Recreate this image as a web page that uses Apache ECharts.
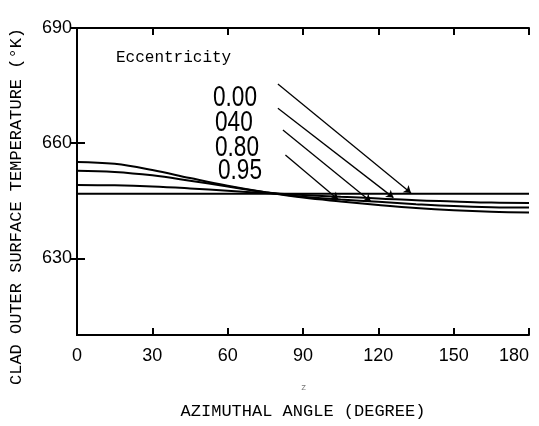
<!DOCTYPE html>
<html>
<head>
<meta charset="utf-8">
<script src="https://cdn.jsdelivr.net/npm/echarts@6/dist/echarts.min.js"></script>
<style>
  html, body { margin: 0; padding: 0; background: #fff; }
  #chart { width: 539px; height: 426px; }
</style>
</head>
<body>
<div id="chart"></div>
<script>
// azimuthal angle (degree)
var angles = [0, 15, 30, 45, 60, 75, 90, 105, 120, 135, 150, 165, 180];
// clad outer surface temperature (K) per eccentricity
var ecc000 = [646.8, 646.8, 646.8, 646.8, 646.8, 646.8, 646.8, 646.8, 646.8, 646.8, 646.8, 646.8, 646.8];
var ecc040 = [649.1, 649.0, 648.7, 648.2, 647.6, 647.0, 646.5, 646.0, 645.6, 645.1, 644.8, 644.5, 644.4];
var ecc080 = [652.8, 652.5, 651.6, 650.2, 648.7, 647.2, 646.0, 645.3, 644.7, 644.1, 643.6, 643.3, 643.2];
var ecc095 = [655.1, 654.6, 653.0, 650.9, 648.9, 647.2, 645.8, 644.8, 643.9, 643.1, 642.5, 642.1, 641.9];
var seriesNames = ["0.00", "040", "0.80", "0.95"];
var yTicks = [630, 660, 690];

function pairs(ys) {
  return angles.map(function (a, i) { return [a, ys[i]]; });
}

// leader lines from the labels to the curves (data coords)
var leaders = [
  [[80, 675.4], [133, 647.0]],
  [[80, 669.1], [126, 645.8]],
  [[82, 663.4], [117, 644.8]],
  [[83, 656.9], [104, 645.3]]
];

var chart = echarts.init(document.getElementById("chart"));
var lineStyle = { color: "#000", width: 2 };
var mono = "Liberation Mono";

var allData = [ecc000, ecc040, ecc080, ecc095];
var series = allData.map(function (d, i) {
  return {
    name: seriesNames[i],
    type: "line",
    smooth: 0.4,
    symbol: "none",
    data: pairs(d),
    lineStyle: { color: "#000", width: 2 },
    markLine: {
      silent: true,
      symbol: ["none", "arrow"],
      symbolSize: 7,
      label: { show: false },
      lineStyle: { color: "#000", width: 1.3, type: "solid" },
      data: [[{ coord: leaders[i][0] }, { coord: leaders[i][1] }]]
    }
  };
});

var option = {
  animation: false,
  backgroundColor: "#fff",
  grid: { left: 77, right: 10, top: 28, bottom: 91, outerBoundsMode: "none" },
  xAxis: [
    {
      type: "value",
      min: 0,
      max: 180,
      interval: 30,
      name: "AZIMUTHAL ANGLE (DEGREE)",
      nameLocation: "middle",
      nameGap: 68,
      nameTextStyle: { fontFamily: mono, fontSize: 17, color: "#000" },
      axisLine: { lineStyle: lineStyle },
      axisTick: { inside: true, length: 7, lineStyle: lineStyle },
      axisLabel: {
        fontFamily: "Liberation Sans", fontSize: 18, color: "#000", margin: 12,
        alignMaxLabel: "right"
      },
      splitLine: { show: false }
    },
    {
      type: "value",
      position: "top",
      min: 0,
      max: 180,
      interval: 30,
      axisLine: { lineStyle: lineStyle },
      axisTick: { inside: true, length: 7, lineStyle: lineStyle },
      axisLabel: { show: false },
      splitLine: { show: false }
    }
  ],
  yAxis: [
    {
      type: "value",
      min: 610,
      max: 690,
      interval: 10,
      axisLine: { lineStyle: lineStyle },
      axisTick: { inside: true, length: 8, lineStyle: lineStyle, customValues: yTicks },
      axisLabel: { fontFamily: "Liberation Sans", fontSize: 18, color: "#000", margin: 5, customValues: yTicks },
      splitLine: { show: false }
    },
    {
      type: "value",
      position: "right",
      min: 610,
      max: 690,
      interval: 10,
      axisLine: { lineStyle: lineStyle },
      axisTick: { inside: true, length: 7, lineStyle: lineStyle, customValues: yTicks },
      axisLabel: { show: false },
      splitLine: { show: false }
    }
  ],
  series: series,
  graphic: [
    {
      type: "text",
      rotation: Math.PI / 2,
      style: {
        text: "CLAD OUTER SURFACE TEMPERATURE (°K)",
        font: "17px " + mono,
        fill: "#000"
      },
      x: 8, y: 385
    },
    {
      type: "text",
      x: 116, y: 50,
      style: { text: "Eccentricity", font: "16px " + mono, fill: "#000" }
    },
    {
      type: "text", x: 213, y: 83, scaleX: 0.78,
      style: { text: "0.00", font: "29px 'Liberation Sans'", fill: "#000" }
    },
    {
      type: "text", x: 215, y: 108, scaleX: 0.78,
      style: { text: "040", font: "29px 'Liberation Sans'", fill: "#000" }
    },
    {
      type: "text", x: 215, y: 133, scaleX: 0.78,
      style: { text: "0.80", font: "29px 'Liberation Sans'", fill: "#000" }
    },
    {
      type: "text", x: 218, y: 156, scaleX: 0.78,
      style: { text: "0.95", font: "29px 'Liberation Sans'", fill: "#000" }
    },
    {
      type: "text", x: 301, y: 383,
      style: { text: "z", font: "9px " + mono, fill: "#777" }
    }
  ]
};

chart.setOption(option);
</script>
</body>
</html>
